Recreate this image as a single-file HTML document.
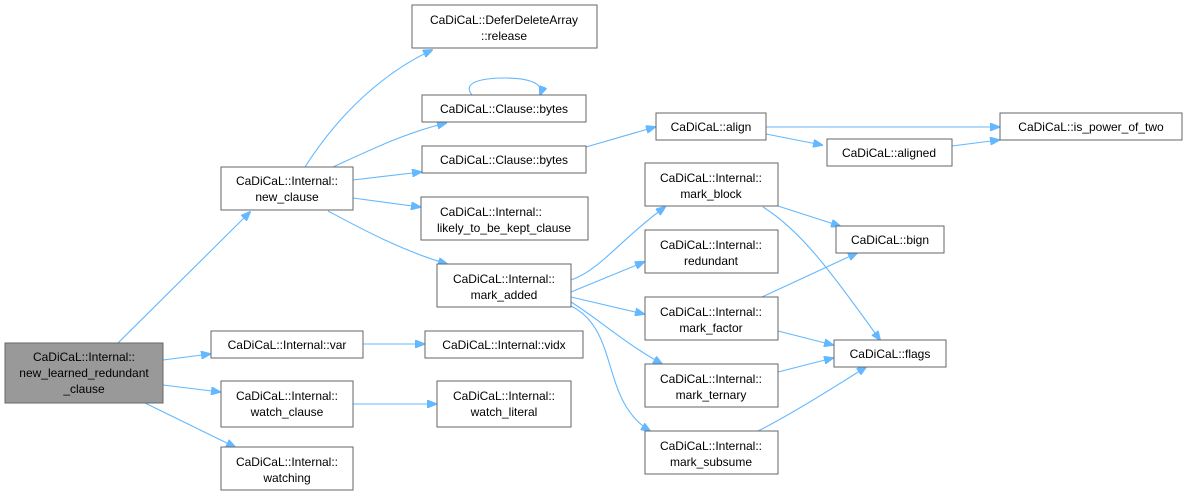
<!DOCTYPE html>
<html><head><meta charset="utf-8"><style>
html,body{margin:0;padding:0;background:#fff;}
svg{display:block;font-family:"Liberation Sans",Arial,sans-serif;font-size:12px;}
rect{fill:#fff;stroke:#666;stroke-width:1;}
path{fill:none;stroke:#63b8ff;stroke-width:1.1;}
text{fill:#000;text-anchor:middle;}
</style></head><body>
<svg width="1186" height="496" viewBox="0 0 1186 496" xmlns="http://www.w3.org/2000/svg">
<defs><marker id="a" markerWidth="10" markerHeight="8" refX="9" refY="4" orient="auto" markerUnits="userSpaceOnUse"><path d="M0,0 L10,4 L0,8 Z" style="fill:#63b8ff;stroke:#63b8ff"/></marker></defs>
<g marker-end="url(#a)">
<path d="M118,343 L250,212"/>
<path d="M163,360 L210,354"/>
<path d="M163,385 L220,392"/>
<path d="M145,403 L235,447"/>
<path d="M363,344 L424,344"/>
<path d="M353,404 L436,404"/>
<path d="M305,167 C340,112 385,72 432,50"/>
<path d="M333,167 C370,150 405,133 446,123"/>
<path d="M353,180 L421,172"/>
<path d="M353,198 L420,207"/>
<path d="M328,211 C360,228 400,250 447,264"/>
<path d="M472,95 C460,80 490,78 505,78 C525,78 545,82 540,95"/>
<path d="M586,147 L655,127"/>
<path d="M766,127 L999,127"/>
<path d="M766,134 L822,145"/>
<path d="M952,146 L999,140"/>
<path d="M571,280 C600,270 620,240 665,207"/>
<path d="M571,292 L644,262"/>
<path d="M571,297 L644,314"/>
<path d="M571,302 C600,320 620,340 662,364"/>
<path d="M571,306 C620,330 600,400 650,431"/>
<path d="M778,206 L840,226"/>
<path d="M763,207 C800,230 830,270 880,340"/>
<path d="M762,297 L857,253"/>
<path d="M778,331 L833,345"/>
<path d="M778,372 L833,358"/>
<path d="M758,431 C790,415 830,390 866,367"/>
</g>
<rect x="5" y="343" width="158" height="60" style="fill:#999"/>
<text x="84" y="361">CaDiCaL::Internal::</text><text x="84" y="377">new_learned_redundant</text><text x="84" y="393">_clause</text>
<rect x="221" y="167" width="132" height="43"/><text x="287" y="185">CaDiCaL::Internal::</text><text x="287" y="201">new_clause</text>
<rect x="211" y="331" width="152" height="27"/><text x="287" y="349">CaDiCaL::Internal::var</text>
<rect x="221" y="381" width="132" height="46"/><text x="287" y="400">CaDiCaL::Internal::</text><text x="287" y="416">watch_clause</text>
<rect x="221" y="447" width="132" height="43"/><text x="287" y="466">CaDiCaL::Internal::</text><text x="287" y="482">watching</text>
<rect x="412" y="5" width="185" height="43"/><text x="504" y="24">CaDiCaL::DeferDeleteArray</text><text x="504" y="40">::release</text>
<rect x="422" y="95" width="164" height="27"/><text x="504" y="113">CaDiCaL::Clause::bytes</text>
<rect x="422" y="146" width="164" height="27"/><text x="504" y="164">CaDiCaL::Clause::bytes</text>
<rect x="421" y="197" width="167" height="43"/><text x="491" y="216">CaDiCaL::Internal::</text><text x="504" y="232">likely_to_be_kept_clause</text>
<rect x="437" y="264" width="134" height="43"/><text x="504" y="283">CaDiCaL::Internal::</text><text x="504" y="299">mark_added</text>
<rect x="425" y="331" width="158" height="27"/><text x="504" y="349">CaDiCaL::Internal::vidx</text>
<rect x="437" y="381" width="134" height="46"/><text x="504" y="400">CaDiCaL::Internal::</text><text x="504" y="416">watch_literal</text>
<rect x="656" y="113" width="110" height="27"/><text x="711" y="131">CaDiCaL::align</text>
<rect x="1000" y="113" width="182" height="27"/><text x="1091" y="131">CaDiCaL::is_power_of_two</text>
<rect x="827" y="139" width="125" height="27"/><text x="889" y="157">CaDiCaL::aligned</text>
<rect x="645" y="163" width="133" height="43"/><text x="711" y="182">CaDiCaL::Internal::</text><text x="711" y="198">mark_block</text>
<rect x="836" y="226" width="108" height="27"/><text x="890" y="244">CaDiCaL::bign</text>
<rect x="645" y="230" width="133" height="43"/><text x="711" y="249">CaDiCaL::Internal::</text><text x="711" y="265">redundant</text>
<rect x="645" y="297" width="133" height="43"/><text x="711" y="316">CaDiCaL::Internal::</text><text x="711" y="332">mark_factor</text>
<rect x="834" y="340" width="112" height="27"/><text x="890" y="358">CaDiCaL::flags</text>
<rect x="645" y="364" width="133" height="43"/><text x="711" y="383">CaDiCaL::Internal::</text><text x="711" y="399">mark_ternary</text>
<rect x="645" y="431" width="133" height="43"/><text x="711" y="450">CaDiCaL::Internal::</text><text x="711" y="466">mark_subsume</text>
</svg>
</body></html>
